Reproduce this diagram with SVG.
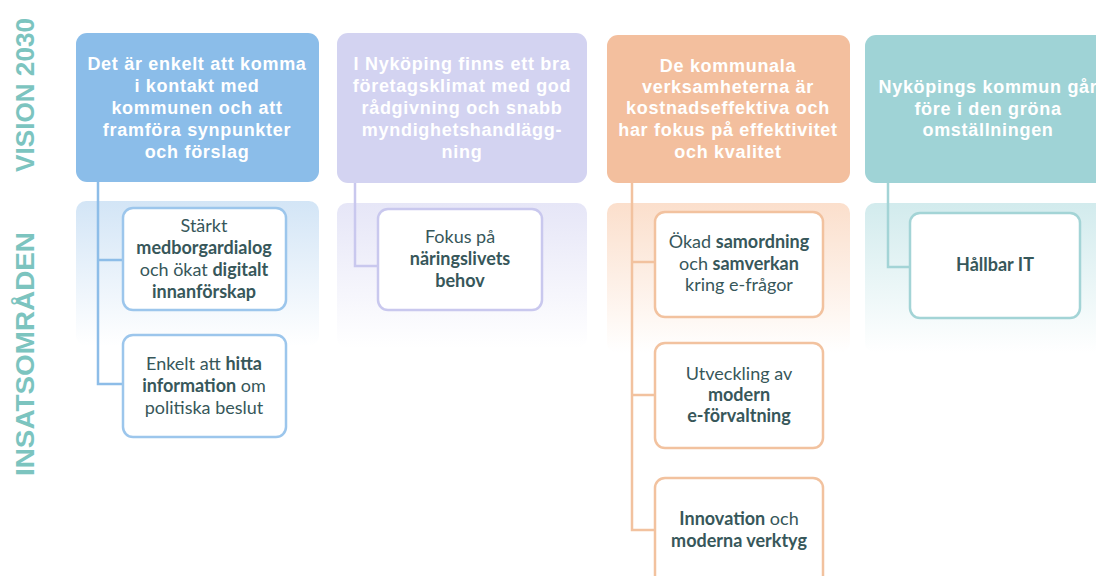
<svg xmlns="http://www.w3.org/2000/svg" width="1096" height="576" viewBox="0 0 1096 576">
<defs>
<linearGradient id="pBlue" x1="0" y1="0" x2="0" y2="1"><stop offset="0" stop-color="#d3e5f6"/><stop offset="1" stop-color="#ffffff"/></linearGradient>
<linearGradient id="pPurple" x1="0" y1="0" x2="0" y2="1"><stop offset="0" stop-color="#e6e6f7"/><stop offset="1" stop-color="#ffffff"/></linearGradient>
<linearGradient id="pOrange" x1="0" y1="0" x2="0" y2="1"><stop offset="0" stop-color="#fbdfcc"/><stop offset="1" stop-color="#ffffff"/></linearGradient>
<linearGradient id="pTeal" x1="0" y1="0" x2="0" y2="1"><stop offset="0" stop-color="#d2ebed"/><stop offset="1" stop-color="#ffffff"/></linearGradient>
</defs>
<style>
.side{font-family:"Liberation Sans",Arial,sans-serif;font-weight:bold;font-size:26px;fill:#7cc4bf}
.head{font-family:"Liberation Sans",Arial,sans-serif;font-weight:bold;font-size:18px;letter-spacing:0.7px;fill:#ffffff;text-anchor:middle}
.child{font-family:Lato,"Open Sans",sans-serif;font-size:18px;fill:#37575a;text-anchor:middle}
.b{font-weight:bold}
.box{fill:#ffffff;stroke-width:2.5}
.conn{fill:none;stroke-width:2.5}
</style>
<text class="side" transform="translate(34,172) rotate(-90)" textLength="154" lengthAdjust="spacingAndGlyphs">VISION 2030</text>
<text class="side" transform="translate(34,476) rotate(-90)" textLength="244" lengthAdjust="spacingAndGlyphs">INSATSOMRÅDEN</text>
<rect x="76" y="201" width="243" height="145" rx="10" fill="url(#pBlue)"/>
<rect x="337" y="203" width="250" height="145" rx="10" fill="url(#pPurple)"/>
<rect x="607" y="203" width="243" height="150" rx="10" fill="url(#pOrange)"/>
<rect x="865" y="203" width="243" height="150" rx="10" fill="url(#pTeal)"/>
<g id="connectors">
<path class="conn" stroke="#8dbde8" d="M98,182 V384 H123 M98,260 H123"/>
<path class="conn" stroke="#c9c8ee" d="M355,183 V266 H378"/>
<path class="conn" stroke="#f2c29f" d="M632,183 V530 H655 M632,262 H655 M632,395 H655"/>
<path class="conn" stroke="#a3d4d6" d="M888,183 V267 H910"/>
</g>
<g id="h1">
<rect x="76" y="33" width="243" height="149" rx="11" fill="#8bbde9"/>
<text class="head"><tspan x="197" y="70">Det är enkelt att komma</tspan><tspan x="197" y="92">i kontakt med</tspan><tspan x="197" y="114">kommunen och att</tspan><tspan x="197" y="136">framföra synpunkter</tspan><tspan x="197" y="158">och förslag</tspan></text>
</g>
<g id="h2">
<rect x="337" y="33" width="250" height="150" rx="11" fill="#d3d3f1"/>
<text class="head"><tspan x="462" y="70">I Nyköping finns ett bra</tspan><tspan x="462" y="92">företagsklimat med god</tspan><tspan x="462" y="114">rådgivning och snabb</tspan><tspan x="462" y="136">myndighetshandlägg-</tspan><tspan x="462" y="158">ning</tspan></text>
</g>
<g id="h3">
<rect x="607" y="35" width="243" height="148" rx="11" fill="#f3bf9e"/>
<text class="head"><tspan x="728" y="72">De kommunala</tspan><tspan x="728" y="93">verksamheterna är</tspan><tspan x="728" y="114">kostnadseffektiva och</tspan><tspan x="728" y="136">har fokus på effektivitet</tspan><tspan x="728" y="158">och kvalitet</tspan></text>
</g>
<g id="h4">
<rect x="865" y="35" width="250" height="148" rx="11" fill="#9fd3d6"/>
<text class="head"><tspan x="988" y="93">Nyköpings kommun går</tspan><tspan x="988" y="115">före i den gröna</tspan><tspan x="988" y="136">omställningen</tspan></text>
</g>
<g id="c1a">
<rect class="box" x="123" y="208" width="163" height="102" rx="10" stroke="#9cc6ec"/>
<text class="child"><tspan x="204" y="232">Stärkt</tspan><tspan x="204" y="254" class="b">medborgardialog</tspan><tspan x="204" y="276">och ökat <tspan class="b">digitalt</tspan></tspan><tspan x="204" y="298" class="b">innanförskap</tspan></text>
</g>
<g id="c1b">
<rect class="box" x="123" y="335" width="163" height="102" rx="10" stroke="#9cc6ec"/>
<text class="child"><tspan x="204" y="370">Enkelt att <tspan class="b">hitta</tspan></tspan><tspan x="204" y="392"><tspan class="b">information</tspan> om</tspan><tspan x="204" y="414">politiska beslut</tspan></text>
</g>
<g id="c2">
<rect class="box" x="378" y="209" width="164" height="101" rx="10" stroke="#c9c8ee"/>
<text class="child"><tspan x="460" y="243">Fokus på</tspan><tspan x="460" y="265" class="b">näringslivets</tspan><tspan x="460" y="287" class="b">behov</tspan></text>
</g>
<g id="c3a">
<rect class="box" x="655" y="212" width="168" height="105" rx="10" stroke="#f2c29f"/>
<text class="child"><tspan x="739" y="248">Ökad <tspan class="b">samordning</tspan></tspan><tspan x="739" y="270">och <tspan class="b">samverkan</tspan></tspan><tspan x="739" y="291">kring e-frågor</tspan></text>
</g>
<g id="c3b">
<rect class="box" x="655" y="343" width="168" height="105" rx="10" stroke="#f2c29f"/>
<text class="child"><tspan x="739" y="380">Utveckling av</tspan><tspan x="739" y="401" class="b">modern</tspan><tspan x="739" y="422" class="b">e-förvaltning</tspan></text>
</g>
<g id="c3c">
<rect class="box" x="655" y="478" width="168" height="110" rx="10" stroke="#f2c29f"/>
<text class="child"><tspan x="739" y="525"><tspan class="b">Innovation</tspan> och</tspan><tspan x="739" y="547" class="b">moderna verktyg</tspan></text>
</g>
<g id="c4">
<rect class="box" x="910" y="213" width="170" height="105" rx="10" stroke="#a3d4d6"/>
<text class="child b"><tspan x="995" y="271">Hållbar IT</tspan></text>
</g>
</svg>
